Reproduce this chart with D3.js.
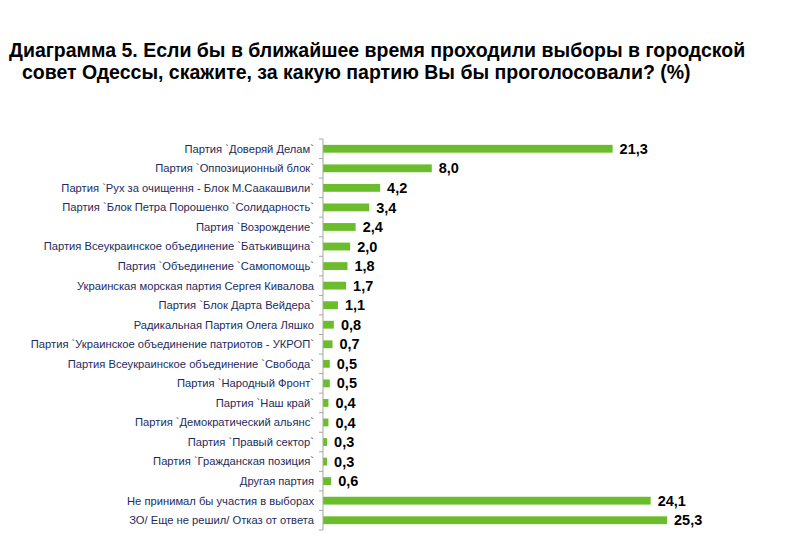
<!doctype html>
<html lang="ru">
<head>
    <meta charset="UTF-8">
    <title>Диаграмма 5</title>
    <script src="https://cdn.jsdelivr.net/npm/d3@7/dist/d3.min.js"></script>
    <style>
        body {
            margin: 0;
            background: #ffffff;
        }
        svg text {
            font-family: Arial, "Liberation Sans", sans-serif;
        }
        .title {
            font-size: 19.5px;
            font-weight: bold;
            fill: #000;
        }
        .cat-label {
            font-size: 11.2px;
            fill: #1d2b5c;
        }
        .val-label {
            font-size: 14.5px;
            font-weight: bold;
            fill: #000;
        }
    </style>
</head>
<body>
<div id="chart"></div>
<script>
// categories (top to bottom) and their percentages
const categories = [
    "Партия `Доверяй Делам`",
    "Партия `Оппозиционный блок`",
    "Партия `Рух за очищення - Блок М.Саакашвили`",
    "Партия `Блок Петра Порошенко `Солидарность`",
    "Партия `Возрождение`",
    "Партия Всеукраинское объединение `Батькивщина`",
    "Партия `Объединение `Самопомощь`",
    "Украинская морская партия Сергея Кивалова",
    "Партия `Блок Дарта Вейдера`",
    "Радикальная Партия Олега Ляшко",
    "Партия `Украинское объединение патриотов - УКРОП`",
    "Партия Всеукраинское объединение `Свобода`",
    "Партия `Народный Фронт`",
    "Партия `Наш край`",
    "Партия `Демократический альянс`",
    "Партия `Правый сектор`",
    "Партия `Гражданская позиция`",
    "Другая партия",
    "Не принимал бы участия в выборах",
    "ЗО/ Еще не решил/ Отказ от ответа"
];
const values = [21.3, 8.0, 4.2, 3.4, 2.4, 2.0, 1.8, 1.7, 1.1, 0.8, 0.7, 0.5, 0.5, 0.4, 0.4, 0.3, 0.3, 0.6, 24.1, 25.3];

const titleLines = [
    "Диаграмма 5. Если бы в ближайшее время проходили выборы в городской",
    "совет Одессы, скажите, за какую партию Вы бы проголосовали? (%)"
];

const width = 800, height = 559;
const axisX = 323, plotTop = 139, plotBottom = 530;

const svg = d3.select("#chart").append("svg")
    .attr("width", width)
    .attr("height", height);

// title
svg.append("text").attr("class", "title")
    .attr("x", 9).attr("y", 57).text(titleLines[0]);
svg.append("text").attr("class", "title")
    .attr("x", 22).attr("y", 79).text(titleLines[1]);

// scales
const x = d3.scaleLinear()
    .domain([0, 25.3])
    .range([axisX, axisX + 344]);

const y = d3.scaleBand()
    .domain(categories)
    .range([plotTop, plotBottom])
    .paddingInner(0.6)
    .paddingOuter(0.3);

// bars
svg.selectAll(".bar")
    .data(values)
    .enter()
    .append("rect")
    .attr("class", "bar")
    .attr("x", x(0))
    .attr("y", (d, i) => y(categories[i]))
    .attr("width", d => x(d) - x(0))
    .attr("height", y.bandwidth())
    .attr("fill", "#6cbd2b");

// vertical axis with small ticks between categories
const axisG = svg.append("g");
axisG.append("line")
    .attr("x1", axisX).attr("x2", axisX)
    .attr("y1", plotTop).attr("y2", plotBottom)
    .attr("stroke", "#a6a6a6");

const tickYs = d3.range(categories.length + 1)
    .map(i => plotTop + i * (plotBottom - plotTop) / categories.length);
axisG.selectAll(".tick")
    .data(tickYs)
    .enter()
    .append("line")
    .attr("x1", axisX - 4).attr("x2", axisX)
    .attr("y1", d => d).attr("y2", d => d)
    .attr("stroke", "#a6a6a6");

// category labels
svg.selectAll(".cat-label")
    .data(categories)
    .enter()
    .append("text")
    .attr("class", "cat-label")
    .attr("x", axisX - 9)
    .attr("y", d => y(d) + y.bandwidth() / 2)
    .attr("dy", "0.35em")
    .attr("text-anchor", "end")
    .text(d => d);

// value labels
svg.selectAll(".val-label")
    .data(values)
    .enter()
    .append("text")
    .attr("class", "val-label")
    .attr("x", d => x(d) + 7)
    .attr("y", (d, i) => y(categories[i]) + y.bandwidth() / 2)
    .attr("dy", "0.35em")
    .text(d => d.toFixed(1).replace(".", ","));
</script>
</body>
</html>
